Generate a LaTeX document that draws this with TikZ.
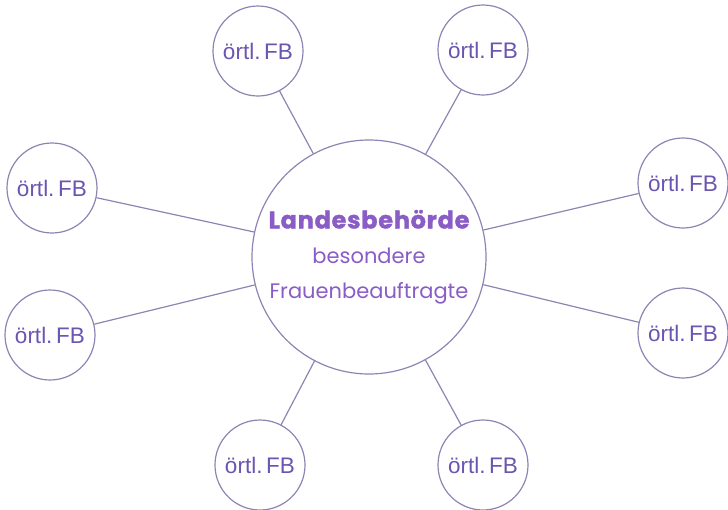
\documentclass[tikz,border=0pt]{standalone}
\usepackage{fontspec}
\setsansfont{Liberation Sans}
\newfontfamily\geofont{Poppins}
\newfontfamily\geoheavy{Poppins}[LetterSpace=3, FakeBold=1.5]
\usepackage{tikz}
\definecolor{fbline}{HTML}{8E84B4}
\definecolor{fbtext}{HTML}{8A5CC6}
\definecolor{fbsmall}{HTML}{6A55B0}
\tikzset{
    hub/.style = {circle, draw = fbline, line width = 1.2pt, minimum size = 234pt,
        inner sep = 0pt, text = fbtext, align = center, font = \geofont\fontsize{21}{35}\selectfont},
    branch/.style = {circle, draw = fbline, line width = 1.2pt, minimum size = 90pt,
        inner sep = 0pt, text = fbsmall, font = \sffamily\fontsize{22.5}{24}\selectfont},
    spoke/.style = {draw = fbline, line width = 1.2pt}
}

\begin{document}
\begin{tikzpicture}[x = 1pt, y = -1pt]
    \useasboundingbox (0, 0) rectangle (728, 509);

    \node[hub] (behoerde) at (369, 257)
        {{\geoheavy\bfseries\fontsize{24}{35}\selectfont Landesbeh\"orde}\\besondere\\Frauenbeauftragte};

    \foreach \name/\pos in {tl/{(258, 51)}, tr/{(483, 50)}, lu/{(52, 188)}, ru/{(683, 183)},
                            ll/{(50, 335)}, rl/{(683, 333)}, bl/{(260, 465)}, br/{(483, 465)}}
    {
        \node[branch] (fb-\name) at \pos {\"ortl.\,FB};
        \draw[spoke] (behoerde) -- (fb-\name);
    }
\end{tikzpicture}
\end{document}
